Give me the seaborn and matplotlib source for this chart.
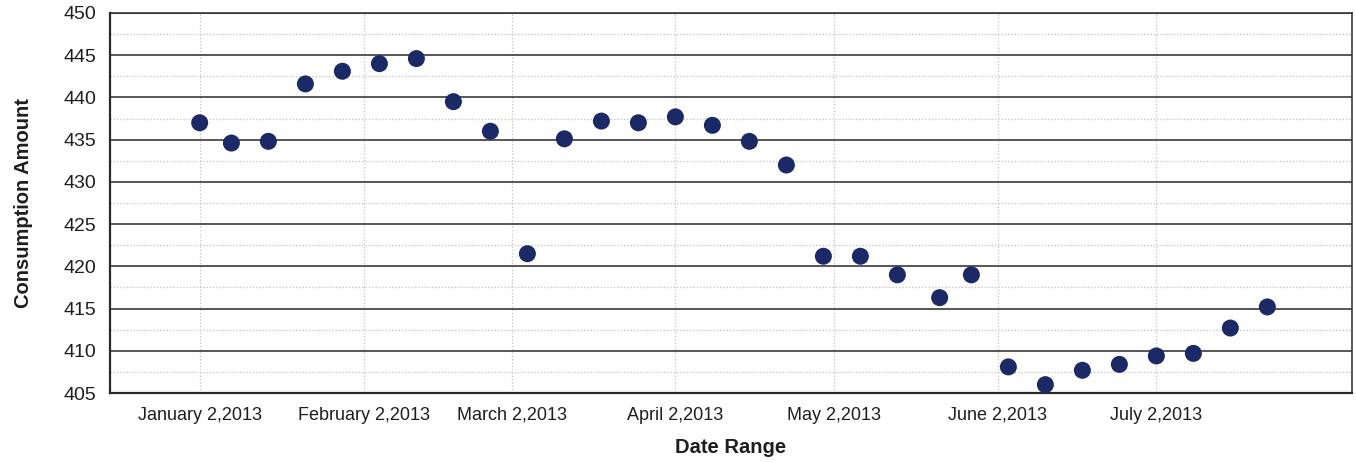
import matplotlib
matplotlib.use("Agg")
import matplotlib.pyplot as plt
import matplotlib.dates as mdates
from matplotlib.ticker import MultipleLocator, FuncFormatter
import seaborn as sns
import pandas as pd

# weekly readings
dates = ["2013-01-02", "2013-01-08", "2013-01-15", "2013-01-22", "2013-01-29",
         "2013-02-05", "2013-02-12", "2013-02-19", "2013-02-26", "2013-03-05",
         "2013-03-12", "2013-03-19", "2013-03-26", "2013-04-02", "2013-04-09",
         "2013-04-16", "2013-04-23", "2013-04-30", "2013-05-07", "2013-05-14",
         "2013-05-22", "2013-05-28", "2013-06-04", "2013-06-11", "2013-06-18",
         "2013-06-25", "2013-07-02", "2013-07-09", "2013-07-16", "2013-07-23"]
amounts = [437.0, 434.6, 434.8, 441.6, 443.1, 444.0, 444.6, 439.5, 436.0, 421.5,
           435.1, 437.2, 437.0, 437.7, 436.7, 434.8, 432.0, 421.2, 421.2, 419.0,
           416.3, 419.0, 408.1, 406.0, 407.7, 408.4, 409.4, 409.7, 412.7, 415.2]

tick_months = [1, 2, 3, 4, 5, 6, 7]
x_start, x_end = "2012-12-16", "2013-08-08"
y_min, y_max = 405, 450

df = pd.DataFrame({"date": pd.to_datetime(dates), "amount": amounts})

sns.set_style("white")
plt.rcParams["font.family"] = ["Liberation Sans", "DejaVu Sans"]

fig, ax = plt.subplots(figsize=(13.56, 4.63), dpi=100)
fig.subplots_adjust(left=0.081, right=0.997, top=0.972, bottom=0.151)

sns.scatterplot(data=df, x="date", y="amount", ax=ax, s=150,
                color="#1b2a66", edgecolor="none", zorder=3)

ax.set_xlim(pd.Timestamp(x_start), pd.Timestamp(x_end))
ax.set_ylim(y_min, y_max)

ax.yaxis.set_major_locator(MultipleLocator(5))
ax.yaxis.set_minor_locator(MultipleLocator(2.5))
ax.xaxis.set_major_locator(mdates.MonthLocator(bymonth=tick_months, bymonthday=2))
ax.xaxis.set_major_formatter(FuncFormatter(
    lambda v, pos: (lambda d: f"{d:%B} {d.day},{d.year}")(mdates.num2date(v))))

ax.grid(axis="y", which="major", color="#3a3a3a", linewidth=1.2, linestyle="-")
ax.grid(axis="y", which="minor", color="#c0c0c0", linewidth=0.9, linestyle=":")
ax.grid(axis="x", which="major", color="#c0c0c0", linewidth=0.9, linestyle=":")
ax.set_axisbelow(True)

for side in ["left", "bottom", "top", "right"]:
    ax.spines[side].set_visible(True)
    ax.spines[side].set_color("#2a2a2a")
    ax.spines[side].set_linewidth(1.6 if side in ("left", "bottom") else 1.1)

ax.tick_params(axis="both", which="both", length=0)
ax.tick_params(axis="y", labelsize=14, pad=10, colors="#1e1e1e")
ax.tick_params(axis="x", labelsize=13, pad=10, colors="#1e1e1e")

ax.set_xlabel("Date Range", fontsize=14.5, fontweight="bold", color="#1e1e1e", labelpad=10)
ax.set_ylabel("Consumption Amount", fontsize=14.5, fontweight="bold", color="#1e1e1e", labelpad=22)

fig.savefig("out.png", dpi=100)
